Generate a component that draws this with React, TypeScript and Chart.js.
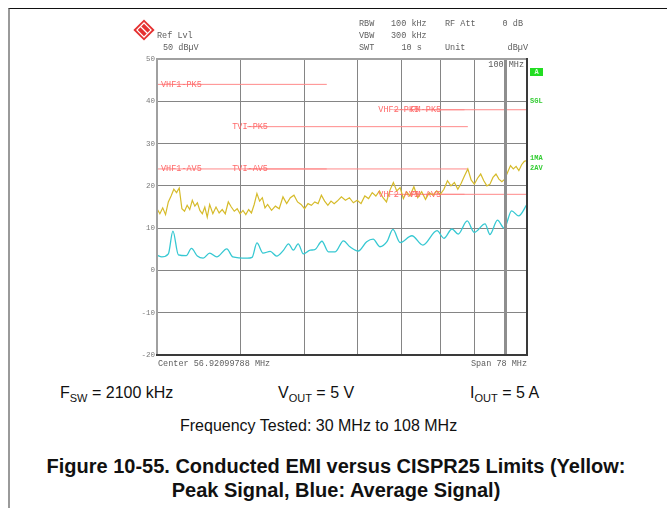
import React, { useEffect, useRef } from "react";
import { Chart, registerables } from "chart.js";

Chart.register(...registerables);

// ---- Data ----
const peakFreq = [
  30.0, 30.3, 30.6, 30.9, 31.2, 31.5, 31.8, 32.1, 32.4, 32.7, 33.0, 33.3, 33.6, 33.9, 34.2, 34.5, 34.8, 35.1, 35.4, 35.7,
  36.0, 36.4, 36.8, 37.2, 37.6, 38.0, 38.4, 38.8, 39.2, 39.6, 40.0, 40.4, 40.8, 41.2, 41.6, 42.0, 42.4, 42.8, 43.2, 43.6,
  44.0, 44.6, 45.2, 45.8, 46.4, 47.0, 47.6, 48.2, 48.8, 49.4, 50.0, 50.6, 51.2, 51.8, 52.4, 53.0, 53.6, 54.2, 54.8, 55.4,
  56.0, 56.8, 57.6, 58.4, 59.2, 60.0, 60.8, 61.6, 62.4, 63.2, 64.0, 64.8, 65.6, 66.4, 67.2, 68.0, 68.8, 69.6, 70.4, 71.2,
  72, 73, 74, 75, 76, 77, 78, 79, 80, 81, 82, 83, 84, 85, 86, 87, 88, 89, 90, 91,
  92, 93, 94, 95, 96, 97, 98, 99, 100, 101, 102, 103, 104, 105, 106, 107, 108,
];
const peakLevel = [
  14.6, 13.4, 14.8, 13.2, 16.2, 17.6, 19.2, 18.4, 19.5, 14.6, 14.0, 15.4, 14.4, 16.6, 15.2, 16.0, 14.2, 13.4, 15.0, 12.6,
  15.6, 13.4, 15.0, 13.6, 14.4, 13.4, 16.2, 15.0, 14.0, 14.6, 13.4, 14.2, 13.2, 14.4, 13.6, 15.6, 18.2, 16.4, 17.2, 14.8,
  15.6, 14.2, 15.2, 14.6, 17.4, 15.8, 17.2, 17.8, 16.2, 15.6, 14.6, 15.8, 15.4, 16.2, 15.8, 17.8, 16.4, 15.4, 16.4, 15.8,
  16.4, 17.4, 16.6, 17.2, 16.0, 16.6, 15.8, 17.6, 17.0, 18.4, 17.6, 18.8, 17.2, 16.2, 19.0, 20.8, 18.8, 19.6, 17.0, 18.6,
  17.6, 19.8, 17.2, 18.6, 16.8, 18.4, 17.8, 18.8, 18.0, 19.2, 21.2, 20.0, 20.8, 19.2, 20.6, 22.4, 24.0, 21.4, 20.4, 21.8,
  22.8, 21.2, 20.0, 20.4, 22.0, 22.8, 21.6, 21.0, 21.6, 23.2, 24.8, 24.0, 24.6, 23.6, 25.0, 25.8, 26.0,
];
const avgFreq = [
  30.0, 30.5, 31.2, 31.7, 32.3, 33.2, 33.8, 34.5, 35.2, 36.0, 36.9, 38.2, 39.0, 41.0, 41.7, 42.4, 43.3, 44.4, 45.4, 46.5,
  47.3, 48.1, 48.9, 49.8, 51.0, 51.8, 53.1, 54.3, 55.6, 57.2, 58.5, 60.2, 62.0, 63.4, 64.9, 66.5, 67.9, 69.6, 72.5, 75.3,
  79.1, 81.0, 83.3, 85.1, 87.8, 90.0, 93.4, 95.0, 97.5, 99.8, 102.4, 104.9, 108,
];
const avgLevel = [
  3.6, 3.2, 3.9, 9.3, 3.7, 3.5, 5.2, 3.4, 2.9, 4.1, 3.2, 5.1, 3.2, 2.9, 3.1, 6.5, 4.1, 4.5, 3.4, 4.8,
  6.3, 4.8, 6.3, 3.9, 4.8, 4.9, 6.9, 4.4, 4.4, 7.0, 5.6, 4.6, 6.8, 7.4, 5.6, 6.8, 9.7, 6.6, 8.2, 6.0,
  9.4, 7.6, 9.8, 8.6, 11.7, 9.0, 11.0, 8.5, 11.9, 10.0, 14.1, 12.9, 15.6,
];
const limitNames = ["VHF1-PK5", "VHF1-AV5", "TVI-PK5", "TVI-AV5", "VHF2-PK5", "VHF2-AV5", "FM-PK5", "FM-AV5"];
const limitStart = [30, 30, 41, 41, 68, 68, 76, 76];
const limitEnd = [54, 54, 88, 88, 87, 87, 108, 108];
const limitLevel = [44, 24, 34, 24, 38, 18, 38, 18];
const yTicks = [-20, -10, 0, 10, 20, 30, 40, 50];
const xGridFreqs = [40, 50, 60, 70, 80, 90, 100];
const markerFreq = 100;

const MONO = '"Liberation Mono", "DejaVu Sans Mono", monospace';
const SANS = '"Liberation Sans", Arial, sans-serif';

const overlay = {
  id: "overlay",
  afterDatasetsDraw(chart: any) {
    const { ctx, chartArea: a, scales } = chart;
    const x = scales.x;
    const y = scales.y;
    ctx.save();
    // limit labels
    ctx.font = `8.5px ${MONO}`;
    ctx.fillStyle = "#ff6a6a";
    ctx.textBaseline = "middle";
    ctx.textAlign = "left";
    limitNames.forEach((n, i) => {
      const px = Math.max(a.left + 4, x.getPixelForValue(limitStart[i]) - 15);
      ctx.fillText(n, px, y.getPixelForValue(limitLevel[i]));
    });
    // marker line
    const mx = Math.round(x.getPixelForValue(markerFreq));
    ctx.fillStyle = "#8e8e8e";
    ctx.fillRect(mx - 1, a.top, 3, a.bottom - a.top);
    // frame
    ctx.fillStyle = "#a0a0a0";
    ctx.fillRect(a.left - 1, a.top - 1, a.right - a.left + 1, 2);
    ctx.fillRect(a.left - 1, a.top - 1, 2, a.bottom - a.top + 1);
    ctx.fillStyle = "#3a3a3a";
    ctx.fillRect(a.right - 1, a.top - 1, 2, a.bottom - a.top + 2);
    ctx.fillRect(a.left - 1, a.bottom - 1, a.right - a.left + 1, 2);
    // marker label
    ctx.fillStyle = "#5a5a5a";
    ctx.font = `8.5px ${MONO}`;
    ctx.textAlign = "right";
    ctx.fillText(`${markerFreq} MHz`, a.right - 3, a.top + 6);
    ctx.restore();
  },
  afterDraw(chart: any) {
    const { ctx, chartArea: a, scales } = chart;
    const y = scales.y;
    ctx.save();
    ctx.textBaseline = "middle";
    // y tick labels
    ctx.font = `7.5px ${MONO}`;
    ctx.fillStyle = "#7a7a7a";
    ctx.textAlign = "right";
    yTicks.forEach((v) => ctx.fillText(String(v), a.left - 2, y.getPixelForValue(v)));
    // header
    ctx.font = `8.5px ${MONO}`;
    ctx.fillStyle = "#606060";
    ctx.textAlign = "left";
    ctx.fillText("Ref Lvl", 157, 36);
    ctx.fillText("50 dB\u00b5V", 163, 48);
    ctx.fillText("RBW", 359, 24);
    ctx.fillText("VBW", 359, 35.5);
    ctx.fillText("SWT", 359, 48);
    ctx.fillText("100 kHz", 391, 24);
    ctx.fillText("300 kHz", 391, 35.5);
    ctx.fillText("10 s", 401.5, 48);
    ctx.fillText("RF Att", 445, 24);
    ctx.fillText("Unit", 445, 48);
    ctx.textAlign = "right";
    ctx.fillText("0 dB", 523, 24);
    ctx.fillText("dB\u00b5V", 528, 48);
    // bottom labels
    ctx.textAlign = "left";
    ctx.fillText("Center 56.92099788 MHz", a.left + 1, a.bottom + 9);
    ctx.textAlign = "right";
    ctx.fillText("Span 78 MHz", a.right, a.bottom + 9);
    // logo
    ctx.save();
    ctx.translate(144, 30);
    ctx.rotate(Math.PI / 4);
    ctx.fillStyle = "#e53030";
    ctx.fillRect(-7.5, -7.5, 15, 15);
    ctx.strokeStyle = "#ffffff";
    ctx.lineWidth = 1.2;
    ctx.strokeRect(-5, -5, 10, 10);
    ctx.beginPath();
    ctx.moveTo(-5, 0);
    ctx.lineTo(5, 0);
    ctx.stroke();
    ctx.restore();
    // green status flags
    ctx.fillStyle = "#22dd22";
    ctx.fillRect(530, 68, 13, 8);
    ctx.font = `bold 7px ${MONO}`;
    ctx.textAlign = "center";
    ctx.fillStyle = "#d8ffd8";
    ctx.fillText("A", 536.5, 72);
    ctx.textAlign = "left";
    ctx.fillStyle = "#33cc33";
    ctx.fillText("SGL", 530, 101);
    ctx.fillText("1MA", 530, 158.5);
    ctx.fillText("2AV", 530, 168);
    ctx.restore();
  },
};

export default function App() {
  const ref = useRef<HTMLCanvasElement | null>(null);
  useEffect(() => {
    if (!ref.current) return;
    const limitSets = limitNames.map((n, i) => ({
      label: n,
      data: [
        { x: limitStart[i], y: limitLevel[i] },
        { x: limitEnd[i], y: limitLevel[i] },
      ],
      borderColor: "#ff8a8a",
      borderWidth: 1,
      pointRadius: 0,
      order: 2,
    }));
    const chart = new Chart(ref.current, {
      type: "line",
      data: {
        datasets: [
          {
            label: "Average",
            data: avgFreq.map((f, i) => ({ x: f, y: avgLevel[i] })),
            borderColor: "#36c8d2",
            borderWidth: 1.3,
            pointRadius: 0,
            cubicInterpolationMode: "monotone",
            order: 0,
          },
          {
            label: "Peak",
            data: peakFreq.map((f, i) => ({ x: f, y: peakLevel[i] })),
            borderColor: "#d6bb2a",
            borderWidth: 1.2,
            pointRadius: 0,
            tension: 0,
            order: 1,
          },
          ...limitSets,
        ] as any,
      },
      options: {
        animation: false,
        responsive: false,
        devicePixelRatio: 1,
        layout: { padding: { left: 157, right: 140, top: 59, bottom: 25 } },
        plugins: { legend: { display: false }, tooltip: { enabled: false } },
        scales: {
          x: {
            type: "logarithmic",
            min: 30,
            max: 108,
            afterFit: (s: any) => {
              s.height = 0;
            },
            afterBuildTicks: (s: any) => {
              s.ticks = xGridFreqs.map((v) => ({ value: v }));
            },
            ticks: { display: false },
            grid: { color: "#858585", drawTicks: false },
            border: { display: false },
          },
          y: {
            type: "linear",
            min: -20,
            max: 50,
            afterFit: (s: any) => {
              s.width = 0;
            },
            afterBuildTicks: (s: any) => {
              s.ticks = yTicks.map((v) => ({ value: v }));
            },
            ticks: { display: false },
            grid: { color: "#858585", drawTicks: false },
            border: { display: false },
          },
        },
      } as any,
      plugins: [overlay],
    });
    return () => chart.destroy();
  }, []);

  const txt: React.CSSProperties = {
    position: "absolute",
    fontFamily: SANS,
    fontSize: 16,
    lineHeight: "20px",
    whiteSpace: "nowrap",
    color: "#111",
  };
  const sub: React.CSSProperties = { fontSize: 11, position: "relative", top: 4 };

  return (
    <div style={{ position: "fixed", left: 0, top: 0, width: 667, height: 508, background: "#fff", overflow: "hidden" }}>
      <div
        style={{
          position: "absolute",
          left: 8,
          top: 8,
          width: 659,
          height: 500,
          borderTop: "1px solid #111",
          borderLeft: "2px solid #9a9a9a",
          boxSizing: "border-box",
        }}
      />
      <canvas ref={ref} width={667} height={380} style={{ position: "absolute", left: 0, top: 0 }} />
      <div style={{ ...txt, left: 60, top: 383 }}>
        F<span style={sub}>SW</span> = 2100 kHz
      </div>
      <div style={{ ...txt, left: 278, top: 383 }}>
        V<span style={sub}>OUT</span> = 5 V
      </div>
      <div style={{ ...txt, left: 470, top: 383 }}>
        I<span style={sub}>OUT</span> = 5 A
      </div>
      <div style={{ ...txt, left: 180, top: 416 }}>Frequency Tested: 30 MHz to 108 MHz</div>
      <div
        style={{
          position: "absolute",
          left: 0,
          top: 454,
          width: 672,
          textAlign: "center",
          fontFamily: SANS,
          fontWeight: "bold",
          fontSize: 20,
          lineHeight: "24px",
          color: "#111",
        }}
      >
        Figure 10-55. Conducted EMI versus CISPR25 Limits (Yellow:
        <br />
        Peak Signal, Blue: Average Signal)
      </div>
    </div>
  );
}
